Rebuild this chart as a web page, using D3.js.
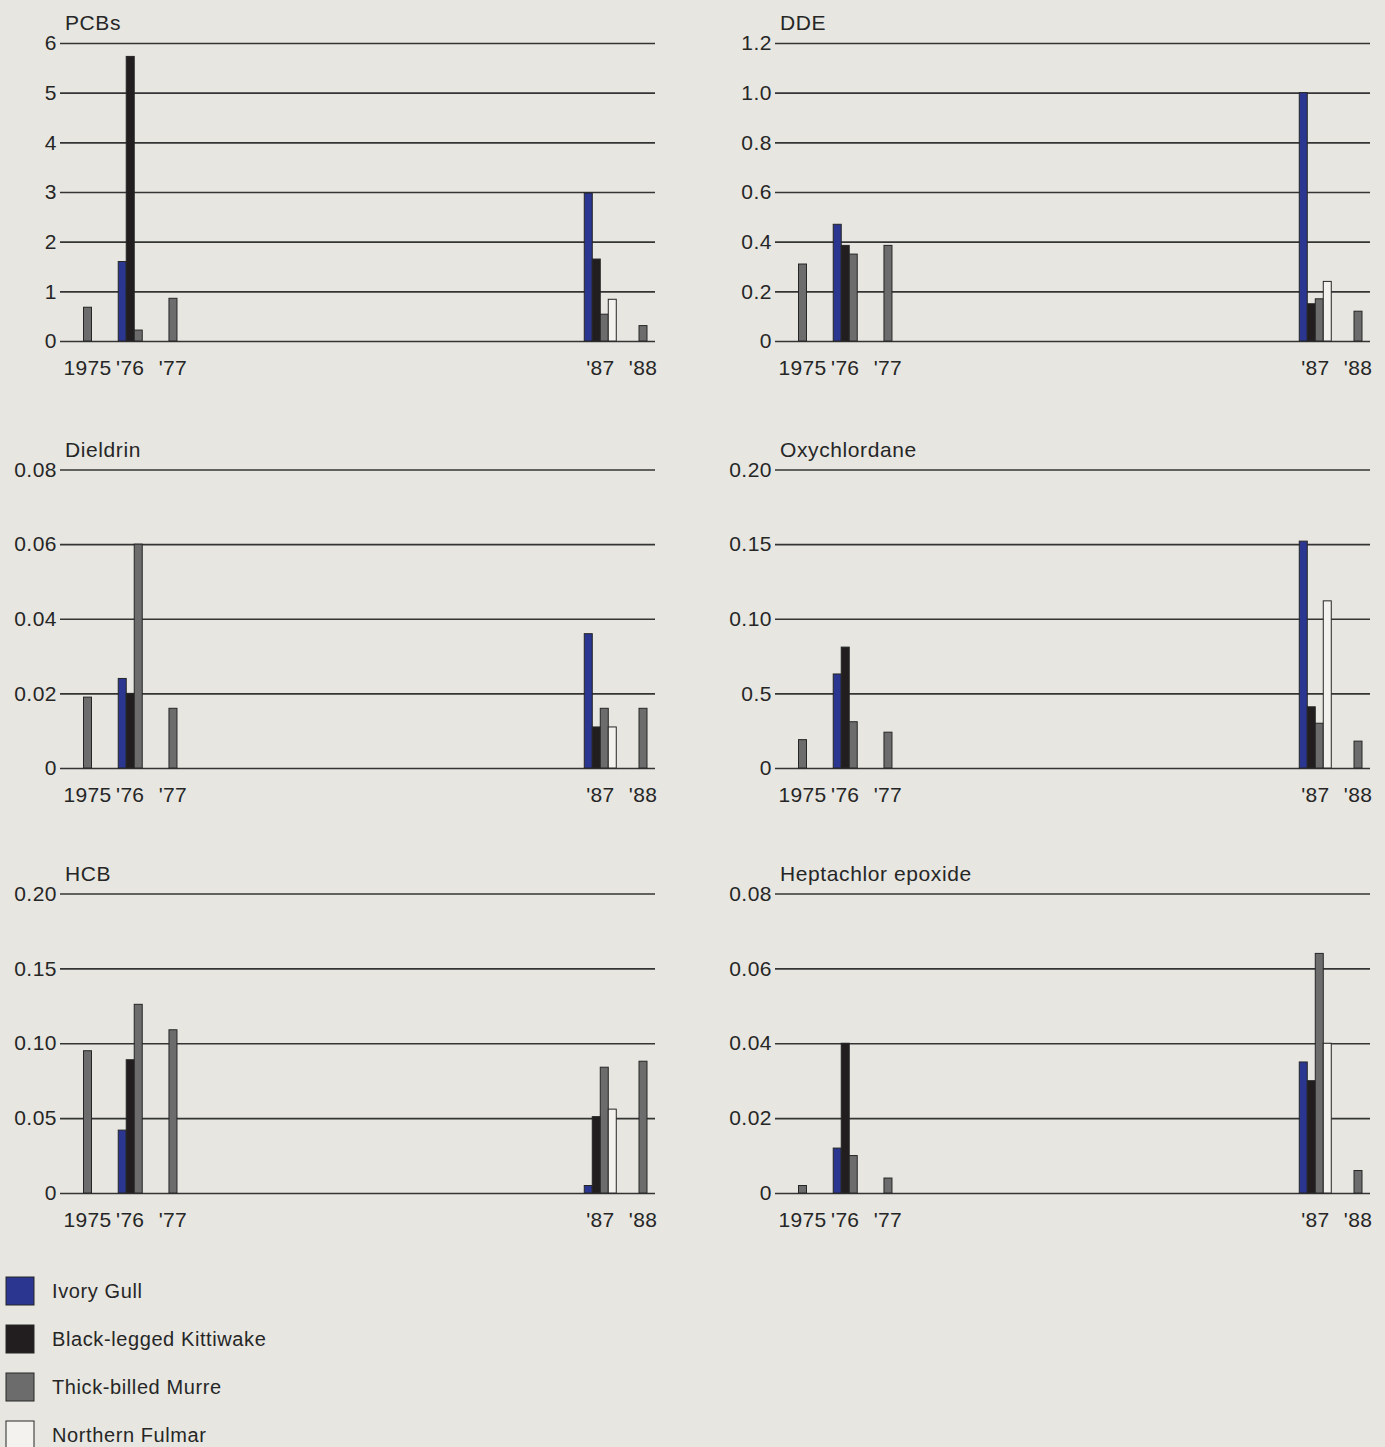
<!DOCTYPE html>
<html>
<head>
<meta charset="utf-8">
<script src="https://cdn.jsdelivr.net/npm/d3@7"></script>
<style>
  body { margin: 0; background: #e7e6e1; }
  svg { display: block; }
  text { font-family: "Liberation Sans", Arial, sans-serif; fill: #262626; }
</style>
</head>
<body>
<div id="chart"></div>
<script>
// sampling years and their printed labels
var years = [1975, 1976, 1977, 1987, 1988];
var yearLabels = ["1975", "'76", "'77", "'87", "'88"];

var species = ["Ivory Gull", "Black-legged Kittiwake", "Thick-billed Murre", "Northern Fulmar"];
var speciesColors = ["#2b3690", "#221e1f", "#6c6c6c", "#f3f2ee"];

// one row per year, one column per species (null = not sampled)
var pcbs = [
  [null, null, 0.68, null],
  [1.60, 5.73, 0.22, null],
  [null, null, 0.86, null],
  [2.98, 1.65, 0.54, 0.84],
  [null, null, 0.31, null]
];
var dde = [
  [null, null, 0.31, null],
  [0.47, 0.385, 0.35, null],
  [null, null, 0.385, null],
  [1.00, 0.15, 0.17, 0.24],
  [null, null, 0.12, null]
];
var dieldrin = [
  [null, null, 0.019, null],
  [0.024, 0.020, 0.060, null],
  [null, null, 0.016, null],
  [0.036, 0.011, 0.016, 0.011],
  [null, null, 0.016, null]
];
var oxychlordane = [
  [null, null, 0.019, null],
  [0.063, 0.081, 0.031, null],
  [null, null, 0.024, null],
  [0.152, 0.041, 0.030, 0.112],
  [null, null, 0.018, null]
];
var hcb = [
  [null, null, 0.095, null],
  [0.042, 0.089, 0.126, null],
  [null, null, 0.109, null],
  [0.005, 0.051, 0.084, 0.056],
  [null, null, 0.088, null]
];
var heptachlor = [
  [null, null, 0.002, null],
  [0.012, 0.040, 0.010, null],
  [null, null, 0.004, null],
  [0.035, 0.030, 0.064, 0.040],
  [null, null, 0.006, null]
];

// y ticks and their printed labels
var pcbsTicks = [0, 1, 2, 3, 4, 5, 6];
var pcbsTickLabels = ["0", "1", "2", "3", "4", "5", "6"];
var ddeTicks = [0, 0.2, 0.4, 0.6, 0.8, 1.0, 1.2];
var ddeTickLabels = ["0", "0.2", "0.4", "0.6", "0.8", "1.0", "1.2"];
var dieldrinTicks = [0, 0.02, 0.04, 0.06, 0.08];
var dieldrinTickLabels = ["0", "0.02", "0.04", "0.06", "0.08"];
var oxyTicks = [0, 0.05, 0.10, 0.15, 0.20];
var oxyTickLabels = ["0", "0.5", "0.10", "0.15", "0.20"];
var hcbTicks = [0, 0.05, 0.10, 0.15, 0.20];
var hcbTickLabels = ["0", "0.05", "0.10", "0.15", "0.20"];
var heptTicks = [0, 0.02, 0.04, 0.06, 0.08];
var heptTickLabels = ["0", "0.02", "0.04", "0.06", "0.08"];

var panels = [
  {title: "PCBs", data: pcbs, ticks: pcbsTicks, labels: pcbsTickLabels, col: 0, row: 0},
  {title: "DDE", data: dde, ticks: ddeTicks, labels: ddeTickLabels, col: 1, row: 0},
  {title: "Dieldrin", data: dieldrin, ticks: dieldrinTicks, labels: dieldrinTickLabels, col: 0, row: 1},
  {title: "Oxychlordane", data: oxychlordane, ticks: oxyTicks, labels: oxyTickLabels, col: 1, row: 1},
  {title: "HCB", data: hcb, ticks: hcbTicks, labels: hcbTickLabels, col: 0, row: 2},
  {title: "Heptachlor epoxide", data: heptachlor, ticks: heptTicks, labels: heptTickLabels, col: 1, row: 2}
];

// layout
var W = 1385, H = 1447;
var colX = [63, 778];
var rowTop = [43, 469.5, 893.5];
var rowBottom = [341, 768, 1193];
var plotW = 592;
var barW = 8;

var svg = d3.select("#chart").append("svg")
  .attr("width", W)
  .attr("height", H);

svg.append("rect")
  .attr("width", W)
  .attr("height", H)
  .attr("fill", "#e7e6e1");

panels.forEach(function(p) {
  var x0 = colX[p.col];
  var top = rowTop[p.row], bottom = rowBottom[p.row];

  var g = svg.append("g")
    .attr("transform", "translate(" + x0 + "," + top + ")");

  var h = bottom - top;

  var x = d3.scaleLinear()
    .domain([1975, 1988])
    .range([24.5, 580]);

  var y = d3.scaleLinear()
    .domain([0, d3.max(p.ticks)])
    .range([h, 0]);

  // gridlines + labels
  var yAx = g.append("g")
    .call(d3.axisLeft(y)
      .tickValues(p.ticks)
      .tickSize(-plotW)
      .tickPadding(5)
      .tickFormat(function(d, i) { return p.labels[i]; }));
  yAx.select(".domain").remove();
  yAx.selectAll("line")
    .attr("stroke", "#343434")
    .attr("stroke-width", 1.7)
    .attr("x1", -3);
  yAx.selectAll("text")
    .attr("x", -6)
    .style("font-family", "'Liberation Sans', Arial, sans-serif")
    .style("font-size", "21px")
    .style("letter-spacing", "0.5px")
    .attr("fill", "#262626");

  // title
  g.append("text")
    .attr("x", 2)
    .attr("y", -13)
    .style("font-size", "21px")
    .style("letter-spacing", "0.6px")
    .text(p.title);

  // bars: species present in a year are drawn side by side, centred on the year
  p.data.forEach(function(row, yi) {
    var present = [];
    row.forEach(function(v, si) { if (v != null) present.push({v: v, s: si}); });
    var start = x(years[yi]) - present.length * barW / 2;
    g.selectAll(null)
      .data(present)
      .enter().append("rect")
        .attr("x", function(d, i) { return start + i * barW; })
        .attr("y", function(d) { return y(d.v); })
        .attr("width", barW)
        .attr("height", function(d) { return h - y(d.v); })
        .attr("fill", function(d) { return speciesColors[d.s]; })
        .attr("stroke", "#262626")
        .attr("stroke-width", 1);
  });

  // year labels
  g.selectAll(null)
    .data(years)
    .enter().append("text")
      .attr("x", function(d) { return x(d); })
      .attr("y", h + 34)
      .attr("text-anchor", "middle")
      .style("font-size", "21px")
      .style("letter-spacing", "0.3px")
      .text(function(d, i) { return yearLabels[i]; });
});

// legend
var legend = svg.append("g")
  .attr("transform", "translate(6,1277)");

legend.selectAll("rect")
  .data(species)
  .enter().append("rect")
    .attr("x", 0)
    .attr("y", function(d, i) { return i * 48; })
    .attr("width", 28)
    .attr("height", 28)
    .attr("fill", function(d, i) { return speciesColors[i]; })
    .attr("stroke", "#262626")
    .attr("stroke-width", 1);

legend.selectAll("text")
  .data(species)
  .enter().append("text")
    .attr("x", 46)
    .attr("y", function(d, i) { return i * 48 + 14; })
    .attr("dy", "0.35em")
    .style("font-size", "20px")
    .style("letter-spacing", "0.6px")
    .text(function(d) { return d; });
</script>
</body>
</html>
